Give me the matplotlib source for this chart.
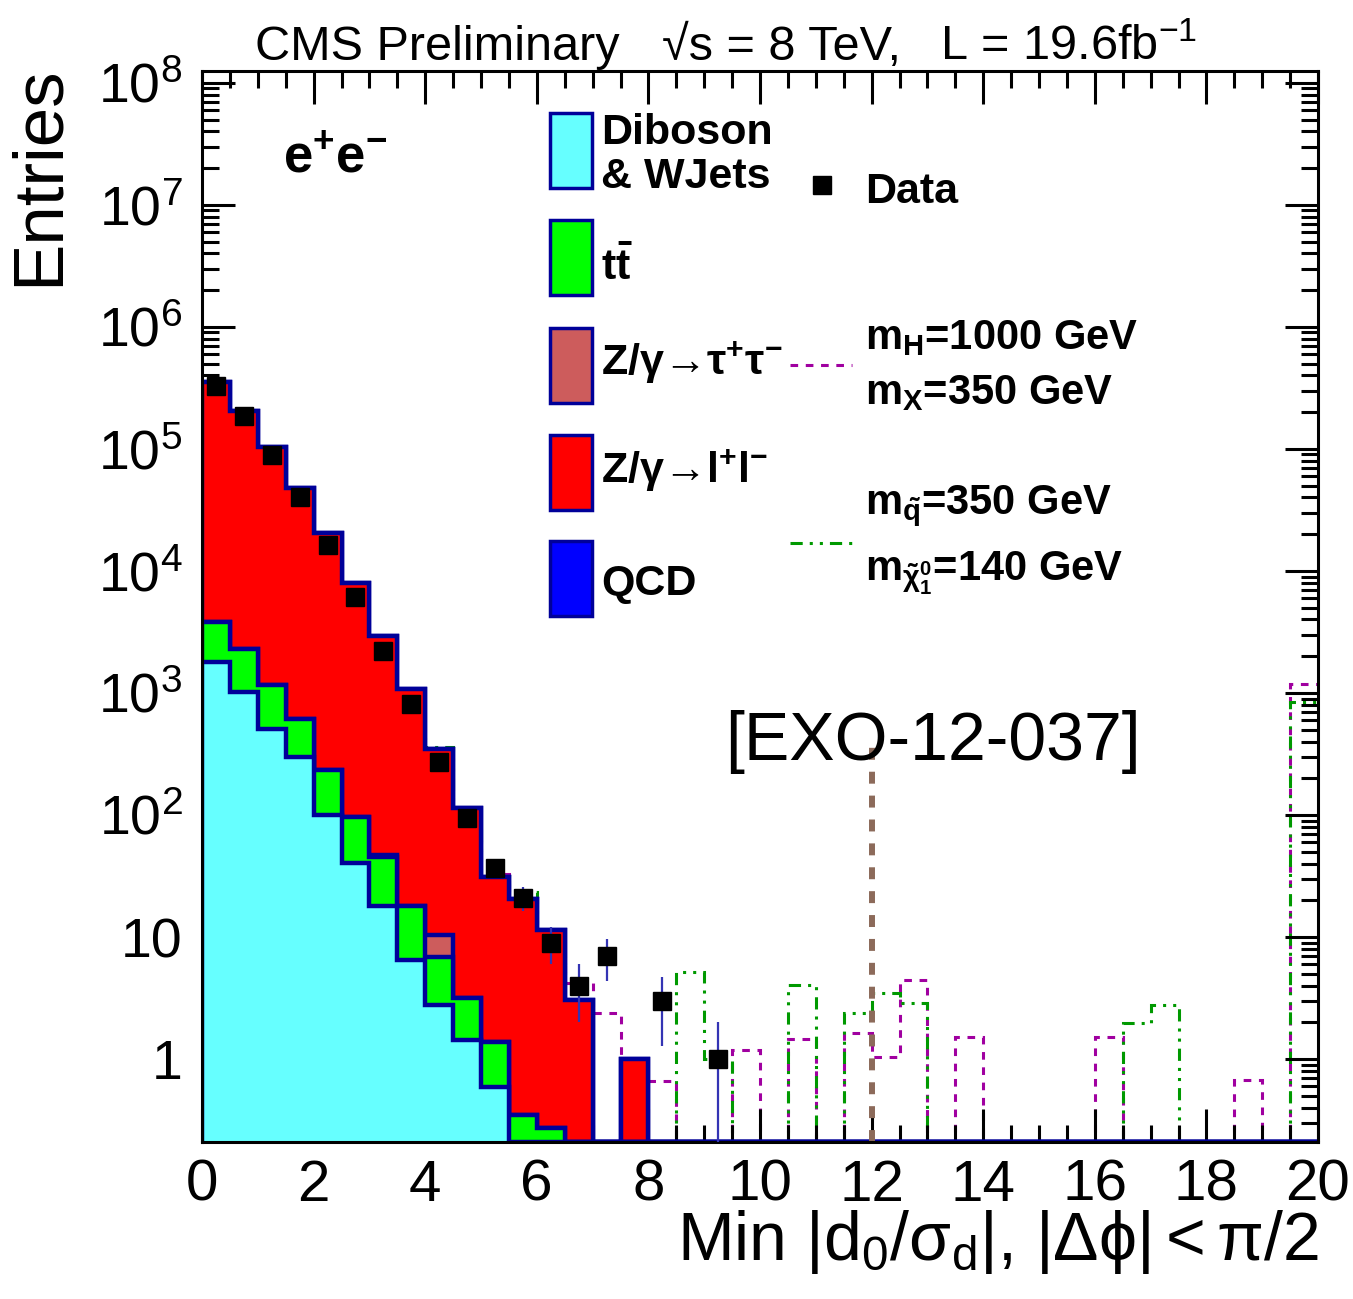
import numpy as np
import matplotlib
matplotlib.use('Agg')
import matplotlib.pyplot as plt
from matplotlib.patches import Rectangle
from matplotlib.lines import Line2D
from matplotlib.ticker import FixedLocator, LogLocator, NullFormatter

plt.rcParams['font.family'] = 'Liberation Sans'
plt.rcParams['mathtext.fontset'] = 'custom'
plt.rcParams['mathtext.rm'] = 'Liberation Sans'
plt.rcParams['mathtext.it'] = 'Liberation Sans:italic'
plt.rcParams['mathtext.bf'] = 'Liberation Sans:bold'

# ---- data (40 bins of width 0.5 from 0 to 20) ----
bin_edges = np.linspace(0, 20, 41)

diboson = [1810, 1010, 510, 296, 100, 40.2, 17.9, 6.48, 2.79, 1.43, 0.59] + [0] * 29
ttbar = [2030, 1270, 650, 316, 134, 56.6, 27.6, 11.6, 4.1, 1.75, 0.78, 0.35, 0.27] + [0] * 27
ztautau = [0, 0, 0, 0, 0, 0, 1.5, 0, 3.4] + [0] * 31
zll = [3.52e5, 2.04e5, 1.03e5, 4.74e4, 2.03e4, 7900, 2880, 1060, 335, 110,
       29.8, 20.2, 11.1, 3.05, 0, 1.0] + [0] * 24
qcd = [0] * 40

data_counts = [3.3e5, 1.86e5, 8.9e4, 4.0e4, 1.63e4, 6090, 2210, 808, 272, 94,
               37, 21, 9, 4, 7, 0, 3, 0, 1] + [0] * 21

sig_h1000 = [2000, 1500, 1100, 800, 560, 380, 250, 160, 100, 60,
             33, 15, 8, 4.22, 2.37, 0.67, 0.665, 0, 0, 1.19,
             0, 1.45, 0, 1.64, 1.03, 4.44, 0, 1.51, 0, 0,
             0, 0, 1.51, 0, 0, 0, 0, 0.673, 0, 1180]
sig_sq350 = [3000, 2200, 1600, 1200, 900, 700, 550, 420, 360, 80,
             28, 23.4, 6, 0, 0, 0, 0, 5.19, 1.01, 0,
             0, 4.04, 0, 2.4, 3.5, 2.86, 0, 0, 0, 0,
             0, 0, 0, 1.98, 2.77, 0, 0, 0, 0, 844]

cut_value = 12
cut_height = 427

x_ticks = list(range(0, 21, 2))

# ---- style ----
W, H = 1353, 1299
ymin, ymax = 0.209, 1.25e8
navy = '#000099'
stack_colors = ['#66ffff', '#00ff00', '#cd5c5c', '#ff0000', '#0000ff']
stack_names = ['Diboson\n& WJets', r't$\mathbf{\bar{t}}$',
               'Z/\u03b3\u2192\u03c4$^{\\mathbf{+}}$\u03c4$^{\\mathbf{-}}$',
               'Z/\u03b3\u2192l$^{\\mathbf{+}}$l$^{\\mathbf{-}}$',
               'QCD']
mag = '#a000a0'
grn = '#009900'
mag_dash = (0, (2.5, 2.5))
grn_dash = (0, (4, 2.3, 1, 2.3, 1, 2.3))


def fx(px):
    return px / W


def fy(py):
    return 1 - py / H


fig = plt.figure(figsize=(W / 100, H / 100), dpi=100)
ax = fig.add_axes([fx(202), fy(1142), (1318 - 202) / W, (1142 - 71) / H])
ax.set_yscale('log')

# signals (behind the stack)
for vals, col, ls in [(sig_h1000, mag, mag_dash), (sig_sq350, grn, grn_dash)]:
    v = np.array(vals, dtype=float)
    v = np.where(v > 0, v, 1e-2)
    ax.stairs(v, bin_edges, baseline=None, color=col, lw=2.2, linestyle=ls, zorder=1.5)

# stacked backgrounds
layers = [np.array(l, dtype=float) for l in [diboson, ttbar, ztautau, zll, qcd]]
tops = np.cumsum(layers, axis=0)
for i in range(len(layers) - 1, -1, -1):
    v = np.maximum(tops[i], ymin)
    ax.stairs(v, bin_edges, baseline=ymin, fill=True, facecolor=stack_colors[i],
              edgecolor=navy, lw=3.2, zorder=2)

# cut line
ax.vlines(cut_value, ymin, cut_height, colors='#8c6a5a', linestyles=(0, (2, 2)), lw=4.3, zorder=2.4)

# data
centers = 0.5 * (bin_edges[:-1] + bin_edges[1:])
d = np.array(data_counts, dtype=float)
m = d > 0
err = np.sqrt(d[m])
lo = np.minimum(err, d[m] * 0.999)
ax.errorbar(centers[m], d[m], yerr=[lo, err], fmt='none', ecolor='#3434b4', elinewidth=1.6, zorder=3)
ax.plot(centers[m], d[m], 's', color='black', ms=13.5, zorder=4)

ax.set_xlim(0, 20)
ax.set_ylim(ymin, ymax)

ax.xaxis.set_major_locator(FixedLocator(x_ticks))
ax.xaxis.set_minor_locator(FixedLocator(np.arange(0, 20.01, 0.5)))
ax.set_xticklabels([str(k) for k in x_ticks])
ax.yaxis.set_major_locator(FixedLocator([10.0 ** k for k in range(0, 9)]))
ax.yaxis.set_minor_locator(LogLocator(base=10, subs=np.arange(2, 10)))
ax.yaxis.set_minor_formatter(NullFormatter())
ylabels = ['1', '10'] + [r'$\mathregular{10^{%d}}$' % k for k in range(2, 9)]
ax.set_yticklabels(ylabels)

ax.tick_params(which='both', direction='in', top=True, right=True, width=2.2, colors='black')
ax.tick_params(which='major', length=24)
ax.tick_params(which='minor', length=12)
ax.tick_params(axis='x', labelsize=42, pad=12)
ax.tick_params(axis='y', labelsize=40, pad=14)
for s in ax.spines.values():
    s.set_linewidth(2.2)

# axis titles
fig.text(fx(40), fy(66), 'Entries', rotation=90, ha='center', va='top', fontsize=51)
fig.text(fx(1318), fy(1260), r'Min $\mathregular{|d_{0}/\sigma_{d}|}$, $\mathregular{|\Delta\phi| < \pi/2}$',
         ha='right', va='baseline', fontsize=49)

# header
fig.text(fx(255), fy(60), 'CMS Preliminary', fontsize=35, va='baseline')
fig.text(fx(662), fy(60), '\u221as = 8 TeV,', fontsize=35, va='baseline')
fig.text(fx(940), fy(60), r'L = 19.6fb$^{\mathregular{-1}}$', fontsize=35, va='baseline')

fig.text(fx(283), fy(172), r'e$^{\mathbf{+}}$e$^{\mathbf{-}}$', fontsize=38, fontweight='bold', va='baseline')
fig.text(fx(725), fy(760), '[EXO-12-037]', fontsize=49, va='baseline')

# legend: stack entries
box_tops = [113, 220, 328, 435, 541]
text_base = [None, 280, 375, 483, 595]
for i in range(5):
    fig.add_artist(Rectangle((fx(550), fy(box_tops[i] + 75)), 42 / W, 75 / H,
                             facecolor=stack_colors[i], edgecolor=navy, lw=2.5,
                             transform=fig.transFigure))
    if i == 0:
        fig.text(fx(601), fy(144), 'Diboson', fontsize=31, fontweight='bold', va='baseline')
        fig.text(fx(601), fy(188), '& WJets', fontsize=31, fontweight='bold', va='baseline')
    else:
        fig.text(fx(601), fy(text_base[i]), stack_names[i], fontsize=31,
                 fontweight='bold', va='baseline')

# legend: data and signals
fig.add_artist(Line2D([fx(822)], [fy(185)], marker='s', color='black', ms=13.5,
                      transform=fig.transFigure))
fig.text(fx(865), fy(203), 'Data', fontsize=31, fontweight='bold', va='baseline')

fig.add_artist(Line2D([fx(790), fx(852)], [fy(365), fy(365)], color=mag, lw=2.2,
                      linestyle=mag_dash, transform=fig.transFigure))
fig.text(fx(865), fy(349), r'm$_{\mathbf{H}}$=1000 GeV', fontsize=30, fontweight='bold', va='baseline')
fig.text(fx(865), fy(404), r'm$_{\mathbf{X}}$=350 GeV', fontsize=30, fontweight='bold', va='baseline')

fig.add_artist(Line2D([fx(790), fx(852)], [fy(543), fy(543)], color=grn, lw=2.2,
                      linestyle=grn_dash, transform=fig.transFigure))
fig.text(fx(865), fy(514), r'm$_{\mathbf{\tilde{q}}}$=350 GeV', fontsize=30, fontweight='bold', va='baseline')
fig.text(fx(865), fy(580), r'm$_{\mathregular{\tilde{\chi}^{0}_{1}}}$=140 GeV', fontsize=30, fontweight='bold', va='baseline')

fig.savefig('out.png', dpi=100)
